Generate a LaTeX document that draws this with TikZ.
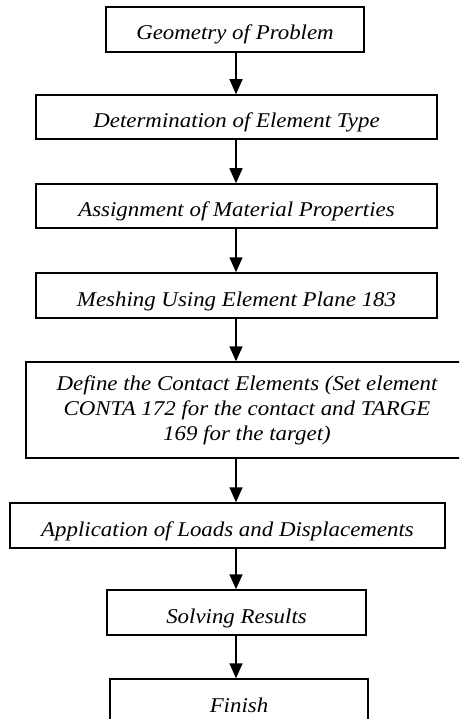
\documentclass[tikz,border=0pt]{standalone}
\usepackage{fontspec}
\setmainfont{Liberation Serif}[FakeStretch=1.09]
\usetikzlibrary{arrows.meta}

\tikzset{
  stepbox/.style={draw, line width=1.5pt, minimum height=45pt, inner sep=2pt,
    font=\itshape\fontsize{21}{25}\selectfont, text height=21pt, text depth=0pt},
  flow/.style={-{Triangle[length=15pt,width=13pt]}, line width=1.5pt}
}

\begin{document}
\begin{tikzpicture}[x=1pt,y=-1pt]
  \useasboundingbox (0,0) rectangle (459,719);
  \clip (0,0) rectangle (459,719);

  % Steps
  \node[stepbox, minimum width=258pt] (geom) at (235,29.5) {Geometry of Problem};
  \node[stepbox, minimum width=401pt, minimum height=44pt] (elem) at (236.5,117) {Determination of Element Type};
  \node[stepbox, minimum width=401pt, minimum height=44pt] (mat) at (236.5,206) {Assignment of Material Properties};
  \node[stepbox, minimum width=401pt] (mesh) at (236.5,295.5) {Meshing Using Element Plane 183};
  \node[stepbox, minimum width=442pt, minimum height=96pt, align=center,
        text height={}, text depth={}] (cont) at (247,410)
        {Define the Contact Elements (Set element\\CONTA 172 for the contact and TARGE\\169 for the target)};
  \node[stepbox, minimum width=435pt] (load) at (227.5,525.5) {Application of Loads and Displacements};
  \node[stepbox, minimum width=259pt] (solve) at (236.5,612.5) {Solving Results};
  \node[stepbox, minimum width=258pt] (fin) at (239,701.5) {Finish};

  % Arrows
  \coordinate (spine) at (236,0);
  \draw[flow] (spine |- geom.south) -- (spine |- elem.north);
  \draw[flow] (spine |- elem.south) -- (spine |- mat.north);
  \draw[flow] (spine |- mat.south) -- (spine |- mesh.north);
  \draw[flow] (spine |- mesh.south) -- (spine |- cont.north);
  \draw[flow] (spine |- cont.south) -- (spine |- load.north);
  \draw[flow] (spine |- load.south) -- (spine |- solve.north);
  \draw[flow] (spine |- solve.south) -- (spine |- fin.north);
\end{tikzpicture}
\end{document}
